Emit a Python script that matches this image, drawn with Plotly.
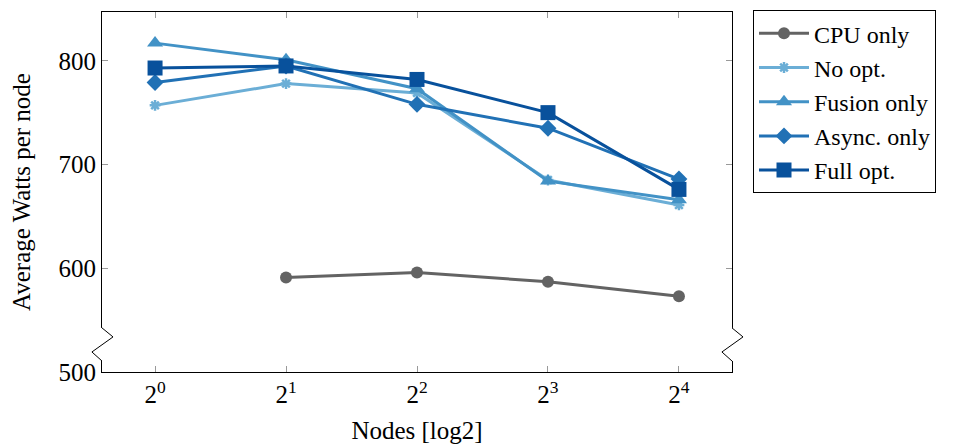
import math
import plotly.graph_objects as go

nodes = [1, 2, 4, 8, 16]
tick_labels = ["2<sup>0</sup>", "2<sup>1</sup>", "2<sup>2</sup>", "2<sup>3</sup>", "2<sup>4</sup>"]

series_names = ["CPU only", "No opt.", "Fusion only", "Async. only", "Full opt."]
cpu_only = [None, 591, 596, 587, 573]
no_opt = [757, 778, 769, 685, 661]
fusion_only = [817, 801, 773, 684, 666]
async_only = [779, 795, 758, 735, 686]
full_opt = [793, 795, 782, 750, 676]

colors = ["#636363", "#6baed6", "#4292c6", "#2171b5", "#08519c"]
symbols = ["circle", "asterisk", "triangle-up", "diamond", "square"]
msizes = [12, 9, 14, 13, 15]

fig = go.Figure()
for i, (name, vals) in enumerate(zip(series_names,
                                     [cpu_only, no_opt, fusion_only, async_only, full_opt])):
    xs = [n for n, v in zip(nodes, vals) if v is not None]
    ys = [v for v in vals if v is not None]
    marker = dict(symbol=symbols[i], size=msizes[i], color=colors[i])
    if symbols[i] == "asterisk":
        marker["line"] = dict(color=colors[i], width=2.5)
    fig.add_trace(go.Scatter(
        x=xs, y=ys, name=name, mode="lines+markers",
        line=dict(color=colors[i], width=3),
        marker=marker,
    ))

FAM = "'Liberation Serif', 'Times New Roman', Times, serif"
font = dict(family=FAM, size=25, color="black")
legend_font = dict(family=FAM, size=24, color="black")

lo = math.log10(2 ** -0.405)
hi = math.log10(2 ** 4.405)

# page body adds an 8px offset; compensate
W, H = 948, 438
L, T = 94, 4
R = W - (732 - 8)
B = H - (372 - 8)

fig.update_layout(
    width=W, height=H,
    margin=dict(l=L, r=R, t=T, b=B, autoexpand=False),
    plot_bgcolor="white", paper_bgcolor="white",
    font=font,
    showlegend=True,
    legend=dict(x=(753 - 8 - L) / (W - L - R), y=1.005, xanchor="left", yanchor="top",
                bordercolor="black", borderwidth=1, font=legend_font,
                itemwidth=50, tracegroupgap=0),
    xaxis=dict(type="log", range=[lo, hi], tickvals=nodes, ticktext=tick_labels,
               showline=True, linecolor="black", linewidth=1, mirror="allticks",
               ticks="inside", tickcolor="#999999", ticklen=6, showgrid=False,
               zeroline=False,
               title=dict(text="Nodes [log2]", standoff=14, font=font),
               tickfont=font),
    yaxis=dict(range=[500, 847], tickvals=[500, 600, 700, 800],
               showline=True, linecolor="black", linewidth=1, mirror="allticks",
               ticks="inside", tickcolor="#999999", ticklen=6, showgrid=False,
               zeroline=False,
               title=dict(text="Average Watts per node", standoff=20, font=font),
               tickfont=font),
)

# axis break marks on left and right axis lines
for xd in [0, 1]:
    fig.add_shape(type="rect", xref="x domain", yref="y",
                  x0=xd - 0.004, x1=xd + 0.004, y0=510.6, y1=542.5,
                  fillcolor="white", line=dict(width=0), layer="above")
    fig.add_shape(type="path", xref="x domain", yref="y",
                  path=f"M {xd} 542.5 L {xd + 0.0175} 533.8 L {xd - 0.016} 519.3 L {xd} 510.6",
                  line=dict(color="black", width=1), layer="above")

fig.write_html("out.html")
